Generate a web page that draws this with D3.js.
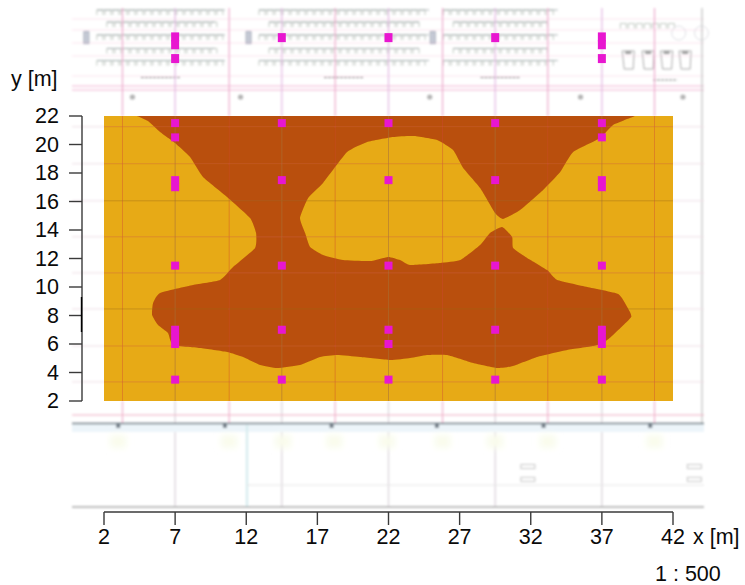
<!DOCTYPE html>
<html>
<head>
<meta charset="utf-8">
<script src="https://cdn.jsdelivr.net/npm/d3@7"></script>
<style>
html,body{margin:0;padding:0;background:#fff}
svg{display:block}
text{font-family:"Liberation Sans",Arial,sans-serif;fill:#0a0a0a}
</style>
</head>
<body>
<div id="chart"></div>
<script>
// ---- data (metres) ----
const xTicks = [2, 7, 12, 17, 22, 27, 32, 37, 42];
const yTicks = [2, 4, 6, 8, 10, 12, 14, 16, 18, 20, 22];
const boundaryX = [4.32,5.09,5.94,6.99,8.05,8.96,10.65,12.27,12.69,12.62,11.07,10.16,8.26,5.94,5.45,5.38,5.80,6.50,6.85,8.75,10.65,11.78,12.97,14.17,15.78,17.19,18.39,20.00,22.11,23.52,24.71,26.12,27.95,29.64,30.76,32.45,34.56,36.39,37.09,37.79,39.06,38.78,38.15,35.97,33.86,33.15,31.75,30.76,30.69,29.99,29.14,28.44,27.04,25.63,23.52,22.82,21.97,20.71,18.81,17.40,16.49,16.14,15.78,16.35,17.40,19.09,20.50,22.32,23.73,25.42,26.54,27.25,28.44,29.50,30.06,31.25,32.87,34.07,34.98,36.88,37.79,39.34];
const boundaryY = [22.00,21.65,20.88,20.11,19.12,17.72,16.32,14.84,13.79,12.74,11.40,10.49,10.14,9.58,8.88,8.04,7.33,6.77,5.93,5.72,5.44,5.09,4.53,4.32,4.53,5.09,5.23,5.09,4.88,5.02,5.23,5.23,4.67,4.32,4.46,5.09,5.58,5.86,6.07,6.63,7.89,8.60,9.51,10.00,10.49,11.19,12.04,12.74,13.51,14.21,13.79,12.95,11.89,11.68,11.54,11.89,12.11,11.82,11.89,12.25,12.81,13.79,14.84,16.25,17.30,19.47,20.18,20.53,20.60,20.32,19.61,18.35,16.95,15.19,14.77,15.40,16.81,18.07,19.47,20.46,21.37,22.00];
const pointX = [7,7,7,7,7,7,7,7,7,14.5,14.5,14.5,14.5,14.5,22,22,22,22,22,22,29.5,29.5,29.5,29.5,29.5,37,37,37,37,37,37,37,37,37];
const pointY = [21.5,20.5,17.5,17,11.5,7,6.5,6,3.5,21.5,17.5,11.5,7,3.5,21.5,17.5,11.5,7,6,3.5,21.5,17.5,11.5,7,3.5,21.5,20.5,17.5,17,11.5,7,6.5,6,3.5];
const planPointX = [7,7,7,14.5,22,29.5,37,37,37];
const planPointY = [27.55,27,26.03,27.5,27.5,27.5,27.55,27,26.03];
const columnLines = [7,14.5,22,29.5,37];
const gridLinesX = [3.3,10.8,18.25,25.8,33.2,40.7];
const gridLinesY = [21.25,18.65,16.05,13.52,10.99,8.46,5.86,3.34];
const darkGridLinesY = [16.05,8.46];
const seatRowsY = [29.3,28.45,27.55,26.6,25.75];
const sectionStart = [1.5,12.9,25.85];
const sectionEnd = [10.5,24.85,33.9];
const axisMarkX = [3,10.5,18,25.4,32.9,40.4];
const gridBubbleX = [4,11.6,24.9,35.5,42.7];
const greenPatchX = [3,10.8,14.6,18.2,21.9,25.8,29.5,33.2,40.7];
const sideMarkX = [31.8,43.5];
const sideMarkY = [-2.6,-3.5];

const W = 745, H = 585;
const x = d3.scaleLinear().domain([2, 42]).range([104, 673]);
const y = d3.scaleLinear().domain([2, 22]).range([401, 116]);

const svg = d3.select("#chart").append("svg").attr("width", W).attr("height", H);
const defs = svg.append("defs");
[["soft",0.6],["planBlur",0.9],["softer",3]].forEach(([id,sd])=>{
  defs.append("filter").attr("id",id).attr("x","-50%").attr("y","-50%").attr("width","200%").attr("height","200%")
    .append("feGaussianBlur").attr("stdDeviation",sd);
});

// ---- floor plan below the fill ----
const plan = svg.append("g").attr("filter","url(#planBlur)");

// seats
const seats = plan.append("g").attr("fill","none").attr("stroke","#bcc4bc").attr("stroke-width",0.9);
sectionStart.forEach((s,i)=>{
  seatRowsY.forEach((r,j)=>{
    const inset = j%2 ? 10 : 0;
    const x0 = x(s)+inset, x1 = x(sectionEnd[i])-inset;
    d3.range(x0, x1-4, 8).forEach(cx=>{
      seats.append("path").attr("d",`M${cx},${y(r)+3}V${y(r)-2}H${cx+6}V${y(r)+3}`);
    });
    seats.append("line").attr("x1",x0).attr("x2",x1).attr("y1",y(r)-2).attr("y2",y(r)-2).attr("stroke","#a4aeb0");
  });
  // aisle block and caption
  seats.append("rect").attr("x",x(s)-13).attr("y",y(27.5)-6).attr("width",5).attr("height",12).attr("stroke","#a0a8b6").attr("fill","#c6cad6");
  plan.append("line").attr("x1",(x(s)+x(sectionEnd[i]))/2-20).attr("x2",(x(s)+x(sectionEnd[i]))/2+20)
    .attr("y1",y(24.7)).attr("y2",y(24.7)).attr("stroke","#8a8a8a").attr("stroke-width",1.1).attr("stroke-dasharray","3 1");
});
// small side room
d3.range(x(38.3), x(42), 8).forEach(cx=>{
  seats.append("path").attr("d",`M${cx},${y(28.35)+3}V${y(28.35)-2}H${cx+6}V${y(28.35)+3}`);
});
[38.5,39.9,41.2,42.5].forEach(v=>{
  seats.append("path").attr("d",`M${x(v)-1},51L${x(v)+1},69H${x(v)+10}L${x(v)+11},51Z`).attr("stroke","#a2a2a2");
  plan.append("rect").attr("x",x(v)+2).attr("y",51).attr("width",6).attr("height",3).attr("fill","#a0a0a0");
});
[42.4,44].forEach(v=>{
  seats.append("circle").attr("cx",x(v)).attr("cy",33).attr("r",7).attr("stroke","#dcdce2");
});
plan.append("line").attr("x1",x(40.6)).attr("x2",x(42.3)).attr("y1",80).attr("y2",80)
  .attr("stroke","#8a8a8a").attr("stroke-width",1.1).attr("stroke-dasharray","3 1");

// plan frame lines
plan.append("g").attr("stroke","#f0b4d2").attr("stroke-width",1).selectAll("line")
  .data([19,30,43,56,76,86,90]).join("line").attr("x1",72).attr("x2",704).attr("y1",d=>d).attr("y2",d=>d)
  .attr("stroke-opacity",(d,i)=>i>4?1:0.35);
plan.append("g").attr("fill","#b4b4b4").selectAll("circle").data(gridBubbleX).join("circle")
  .attr("cx",d=>x(d)).attr("cy",97).attr("r",2.6);

// grid lines reaching over the plan
plan.append("g").attr("stroke","#ecaacc").attr("stroke-width",1.2).selectAll("line")
  .data(gridLinesX).join("line").attr("x1",d=>x(d)).attr("x2",d=>x(d)).attr("y1",8).attr("y2",116);
plan.append("g").attr("stroke","#e2b8e2").attr("stroke-width",1.2).selectAll("line")
  .data(columnLines).join("line").attr("x1",d=>x(d)).attr("x2",d=>x(d)).attr("y1",8).attr("y2",116);
plan.append("g").attr("stroke","#d8d0d8").attr("stroke-width",1.2).selectAll("line")
  .data(columnLines).join("line").attr("x1",d=>x(d)).attr("x2",d=>x(d)).attr("y1",401).attr("y2",507);
plan.append("line").attr("x1",702).attr("x2",702).attr("y1",8).attr("y2",425).attr("stroke","#c9c9c9").attr("stroke-width",1.4);
plan.append("g").attr("stroke","#efdfe6").attr("stroke-width",1).selectAll("line")
  .data(gridLinesY).join("line").attr("x1",72).attr("x2",704).attr("y1",d=>y(d)).attr("y2",d=>y(d));

// lower part of the plan
plan.append("g").attr("stroke","#eeb0cc").attr("stroke-width",1.2).selectAll("line")
  .data(gridLinesX).join("line").attr("x1",d=>x(d)).attr("x2",d=>x(d)).attr("y1",401).attr("y2",423);
plan.append("line").attr("x1",72).attr("x2",704).attr("y1",415).attr("y2",415).attr("stroke","#f0b0c4").attr("stroke-width",1.2);
plan.append("rect").attr("x",72).attr("y",424).attr("width",632).attr("height",8).attr("fill","#edf5fa");
plan.append("line").attr("x1",72).attr("x2",704).attr("y1",423.5).attr("y2",423.5).attr("stroke","#66757e").attr("stroke-width",1.5);
plan.append("g").attr("fill","#76808a").selectAll("rect").data(axisMarkX).join("rect")
  .attr("x",d=>x(d)-2).attr("y",424).attr("width",4).attr("height",4);
plan.append("g").attr("fill","#f9fcec").attr("filter","url(#softer)").selectAll("rect").data(greenPatchX).join("rect")
  .attr("x",d=>x(d)-8).attr("y",435).attr("width",16).attr("height",13);
plan.append("line").attr("x1",247).attr("x2",247).attr("y1",425).attr("y2",507).attr("stroke","#d8ecef").attr("stroke-width",2.4);
plan.append("line").attr("x1",247).attr("x2",704).attr("y1",485).attr("y2",485).attr("stroke","#e6e6e6").attr("stroke-width",1);
plan.append("line").attr("x1",72).attr("x2",704).attr("y1",507).attr("y2",507).attr("stroke","#a9a9a9").attr("stroke-width",1.4);
const marks = plan.append("g").attr("fill","none").attr("stroke","#c6c6c6");
sideMarkX.forEach(a=>sideMarkY.forEach(b=>{
  marks.append("rect").attr("x",x(a)-7).attr("y",y(b)-2).attr("width",14).attr("height",4);
}));

// ---- chart body ----
const body = svg.append("g").attr("filter","url(#soft)");
body.append("rect").attr("x",x(2)).attr("y",y(22)).attr("width",x(42)-x(2)).attr("height",y(2)-y(22)).attr("fill","#e7aa14");

const line = d3.line().curve(d3.curveCardinal.tension(0.55)).x(i=>x(boundaryX[i])).y(i=>y(boundaryY[i]));
body.append("path").attr("d",line(d3.range(boundaryX.length))+"Z").attr("fill","#b9500b");

// plan lines seen through the fill
body.append("g").attr("stroke","#d0483c").attr("stroke-opacity",0.4).attr("stroke-width",1).selectAll("line")
  .data(gridLinesX).join("line").attr("x1",d=>x(d)).attr("x2",d=>x(d)).attr("y1",y(22)).attr("y2",y(2));
body.append("g").attr("stroke","#a8703a").attr("stroke-opacity",0.55).attr("stroke-width",1).selectAll("line")
  .data(columnLines).join("line").attr("x1",d=>x(d)).attr("x2",d=>x(d)).attr("y1",y(22)).attr("y2",y(2));
body.append("g").attr("stroke-width",1).selectAll("line")
  .data(gridLinesY).join("line").attr("x1",x(2)).attr("x2",x(42)).attr("y1",d=>y(d)).attr("y2",d=>y(d))
  .attr("stroke",d=>darkGridLinesY.includes(d)?"#9c6a28":"#d0604a").attr("stroke-opacity",0.4);

// measurement points
const dots = svg.append("g").attr("filter","url(#soft)").attr("fill","#e818d0");
dots.selectAll("rect.p").data(pointX).join("rect").attr("class","p")
  .attr("x",d=>x(d)-4).attr("y",(d,i)=>y(pointY[i])-4).attr("width",8).attr("height",8);
dots.selectAll("rect.q").data(planPointX).join("rect").attr("class","q")
  .attr("x",d=>x(d)-4).attr("y",(d,i)=>y(planPointY[i])-4.5).attr("width",8).attr("height",9);

// ---- axes ----
const ax = svg.append("g").attr("stroke","#3a3a3a").attr("stroke-width",1.4).attr("fill","none");
ax.append("line").attr("x1",x(2)).attr("x2",x(42)).attr("y1",512).attr("y2",512);
ax.selectAll("line.t").data(xTicks).join("line").attr("class","t")
  .attr("x1",d=>x(d)).attr("x2",d=>x(d)).attr("y1",512).attr("y2",525);
ax.append("line").attr("x1",82).attr("x2",82).attr("y1",y(22)).attr("y2",y(2));
ax.selectAll("line.u").data(yTicks).join("line").attr("class","u")
  .attr("x1",69).attr("x2",82).attr("y1",d=>y(d)).attr("y2",d=>y(d));
ax.append("line").attr("x1",81.5).attr("x2",81.5).attr("y1",297).attr("y2",332).attr("stroke","#000");

const labels = svg.append("g").attr("font-size",21.5);
labels.selectAll("text.x").data(xTicks).join("text").attr("class","x")
  .attr("x",d=>x(d)).attr("y",544).attr("text-anchor","middle").text(d=>d);
labels.selectAll("text.y").data(yTicks).join("text").attr("class","y")
  .attr("x",59).attr("y",d=>y(d)+7).attr("text-anchor","end").text(d=>d);
labels.append("text").attr("x",693).attr("y",544).text("x [m]");
labels.append("text").attr("x",11).attr("y",86).text("y [m]");
labels.append("text").attr("x",655).attr("y",581).text("1 : 500");
</script>
</body>
</html>
